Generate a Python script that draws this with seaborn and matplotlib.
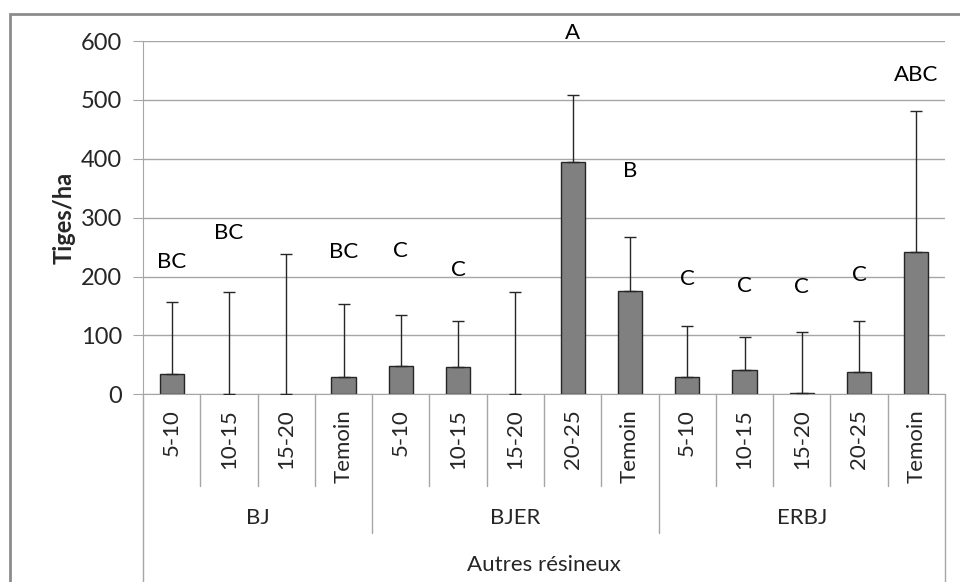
import pandas as pd
import matplotlib
matplotlib.use("Agg")
import matplotlib.pyplot as plt
import matplotlib.transforms as mtransforms
from matplotlib.patches import Rectangle
import seaborn as sns

# data
groups = ["BJ"] * 4 + ["BJER"] * 5 + ["ERBJ"] * 5
classes = ["5-10", "10-15", "15-20", "Temoin",
           "5-10", "10-15", "15-20", "20-25", "Temoin",
           "5-10", "10-15", "15-20", "20-25", "Temoin"]
means = [34, 0, 0, 30, 48, 46, 0, 394, 175, 30, 41, 2, 38, 242]
err_up = [123, 173, 238, 123, 86, 79, 173, 114, 92, 86, 56, 103, 87, 239]
letters = ["BC", "BC", "", "BC", "C", "C", "", "A", "B", "C", "C", "C", "C", "ABC"]
letter_y = [225, 274, 0, 242, 244, 211, 0, 614, 380, 195, 184, 182, 203, 543]
group_names = ["BJ", "BJER", "ERBJ"]
super_label = "Autres résineux"

sns.set_style("white")
plt.rcParams['font.family'] = ['Lato', 'DejaVu Sans']

df = pd.DataFrame({"key": [f"{g}|{c}" for g, c in zip(groups, classes)],
                   "val": means})

fig = plt.figure(figsize=(9.6, 5.82), dpi=100)
ax = fig.add_axes([143 / 960, 1 - 394.3 / 582, (945 - 143) / 960, 353.3 / 582])

sns.barplot(data=df, x="key", y="val", color="#808080", saturation=1,
            edgecolor="#262626", linewidth=1.0, width=0.42, errorbar=None, ax=ax)
# empty classes have no visible bar in the original
for patch, v in zip(ax.patches, means):
    if v == 0:
        patch.set_visible(False)

n = len(df)
xs = list(range(n))
ax.errorbar(xs, means, yerr=[[0] * n, err_up], fmt="none", ecolor="#262626",
            elinewidth=1.0, capsize=4.5, capthick=1.0, zorder=3)

for x, t, y in zip(xs, letters, letter_y):
    if t:
        ax.text(x, y, t, ha="center", va="center", fontsize=16, color="black",
                clip_on=False)

ax.set_ylim(0, 600)
ax.set_xlim(-0.5, n - 0.5)
ax.set_yticks(range(0, 601, 100))
ax.yaxis.grid(True, color="#a6a6a6", linewidth=1.0)
ax.set_axisbelow(True)
for s in ["top", "right"]:
    ax.spines[s].set_visible(False)
ax.spines["left"].set_color("#a6a6a6")
ax.spines["bottom"].set_color("#a6a6a6")
ax.tick_params(axis="y", length=7, color="#a6a6a6", labelsize=17, pad=8, left=True)
ax.tick_params(axis="x", length=0, labelsize=16, pad=11)
ax.set_xticks(xs)
ax.set_xticklabels(classes, rotation=90, ha="center", va="top")
ax.set_xlabel("")
ax.set_ylabel("Tiges/ha", fontsize=17, fontweight="bold", labelpad=4)

# category / group separators under the axis
trans = mtransforms.blended_transform_factory(ax.transData, ax.transAxes)
bounds = [i - 0.5 for i in range(n + 1)]
group_edges = [-0.5, 3.5, 8.5, 13.5]
for b in bounds:
    if b in (-0.5, n - 0.5):
        low = -0.56
    elif b in group_edges:
        low = -0.392
    else:
        low = -0.26
    ax.plot([b, b], [0, low], transform=trans, color="#a6a6a6", lw=1.0,
            clip_on=False)

for gname, lo, hi in zip(group_names, group_edges[:-1], group_edges[1:]):
    ax.text((lo + hi) / 2, -0.35, gname, transform=trans, ha="center",
            va="center", fontsize=16)
ax.text((n - 1) / 2, -0.483, super_label, transform=trans, ha="center",
        va="center", fontsize=16)

# outer chart frame (right and bottom edges are cropped in the original)
fig.patches.append(Rectangle((10 / 960, -0.2), 1.2, 1.2 - 14 / 582,
                             transform=fig.transFigure, fill=False,
                             edgecolor="#8c8c8c", linewidth=2.0))

fig.savefig("out.png", dpi=100)
